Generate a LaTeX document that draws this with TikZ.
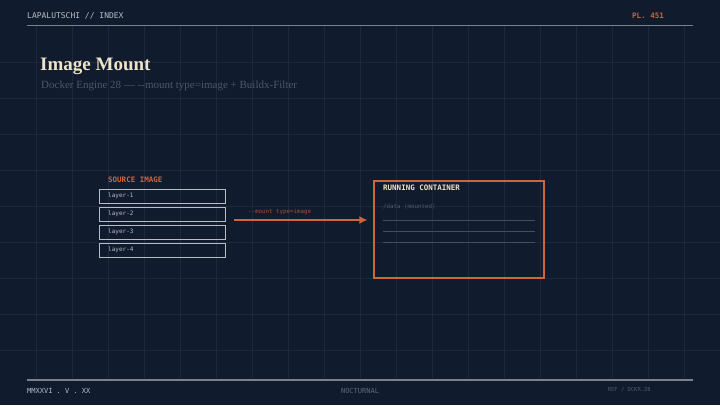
\documentclass[tikz,border=0pt]{standalone}
\usepackage{fontspec}
\usetikzlibrary{arrows.meta}
\setmainfont{Liberation Serif}
\setmonofont{DejaVu Sans Mono}
\definecolor{bg}{HTML}{111B2E}
\definecolor{gridc}{HTML}{1C283D}
\definecolor{org}{HTML}{D0643A}
\definecolor{cream}{HTML}{EDE3C8}
\definecolor{lgray}{HTML}{B8BCC4}
\definecolor{dgray}{HTML}{4C586C}
\definecolor{rule}{HTML}{7A808A}
\tikzset{
  lbl/.style={inner sep=0pt,anchor=west,font=\ttfamily\fontsize{6}{7}\selectfont,text=lgray},
  layerbox/.style={draw=lgray,line width=1pt,minimum width=126pt,minimum height=14pt,inner sep=0pt}
}
\begin{document}
\begin{tikzpicture}[x=1pt,y=-1pt]
\fill[bg] (0,0) rectangle (720,405);
\useasboundingbox (0,0) rectangle (720,405);
\foreach \x in {36,72,...,700} \draw[gridc,line width=0.6pt] (\x,26) -- (\x,378);
\foreach \y in {62,98,...,370} \draw[gridc,line width=0.6pt] (0,\y) -- (720,\y);
\draw[rule,line width=0.8pt] (27,25) -- (693,25);
\draw[rule,line width=1.2pt] (27,380) -- (693,380);
\node[lbl,font=\ttfamily\fontsize{8}{9}\selectfont] (hdr) at (27,16) {LAPALUTSCHI // INDEX};
\node[lbl,anchor=east,text=org,font=\ttfamily\bfseries\fontsize{7.5}{9}\selectfont] (pl) at (664,16) {PL. 451};
\node[inner sep=0pt,anchor=west,text=cream,font=\bfseries\fontsize{19}{22}\selectfont] (title) at (40,66) {Image Mount};
\node[inner sep=0pt,anchor=west,text=dgray,font=\fontsize{11}{13}\selectfont] (sub) at (41,86) {Docker Engine 28 — {-}{-}mount type=image + Buildx-Filter};
\node[lbl,text=org,font=\ttfamily\bfseries\fontsize{7.5}{9}\selectfont] (src) at (108,180) {SOURCE IMAGE};
\foreach \i/\y in {1/196,2/214,3/232,4/250}{
  \node[layerbox] (L\i) at (162,\y) {};
  \node[lbl] at (108,\y) {layer-\i};
}
\node[draw=org,line width=1.5pt,minimum width=170pt,minimum height=97pt,inner sep=0pt] (ctr) at (459,229.5) {};
\coordinate (a0) at (234,220);
\draw[org,line width=1.2pt,-{Latex[length=8pt,width=8pt]}] (a0) -- ([xshift=-6pt]ctr.west |- a0);
\node[lbl,text=org!75!bg,font=\ttfamily\fontsize{5.8}{7}\selectfont] (ml) at (248,212) {--mount type=image};
\node[lbl,text=cream,font=\ttfamily\bfseries\fontsize{7.5}{9}\selectfont] (rc) at (383,188) {RUNNING CONTAINER};
\node[lbl,text=dgray,font=\ttfamily\fontsize{5.8}{7}\selectfont] (dm) at (383,207) {/data (mounted)};
\foreach \y in {220,231,242} \draw[gridc!75!lgray,line width=0.5pt] (383,\y) -- (535,\y);
\node[lbl,font=\ttfamily\fontsize{7}{9}\selectfont] (f1) at (27,391) {MMXXVI . V . XX};
\node[lbl,anchor=center,text=dgray!90!white,font=\ttfamily\fontsize{7}{9}\selectfont] (f2) at (360,391) {NOCTURNAL};
\node[lbl,anchor=east,text=dgray,font=\ttfamily\fontsize{5.5}{7}\selectfont] (f3) at (651,390) {REF / DCKR.28};
\end{tikzpicture}
\end{document}
